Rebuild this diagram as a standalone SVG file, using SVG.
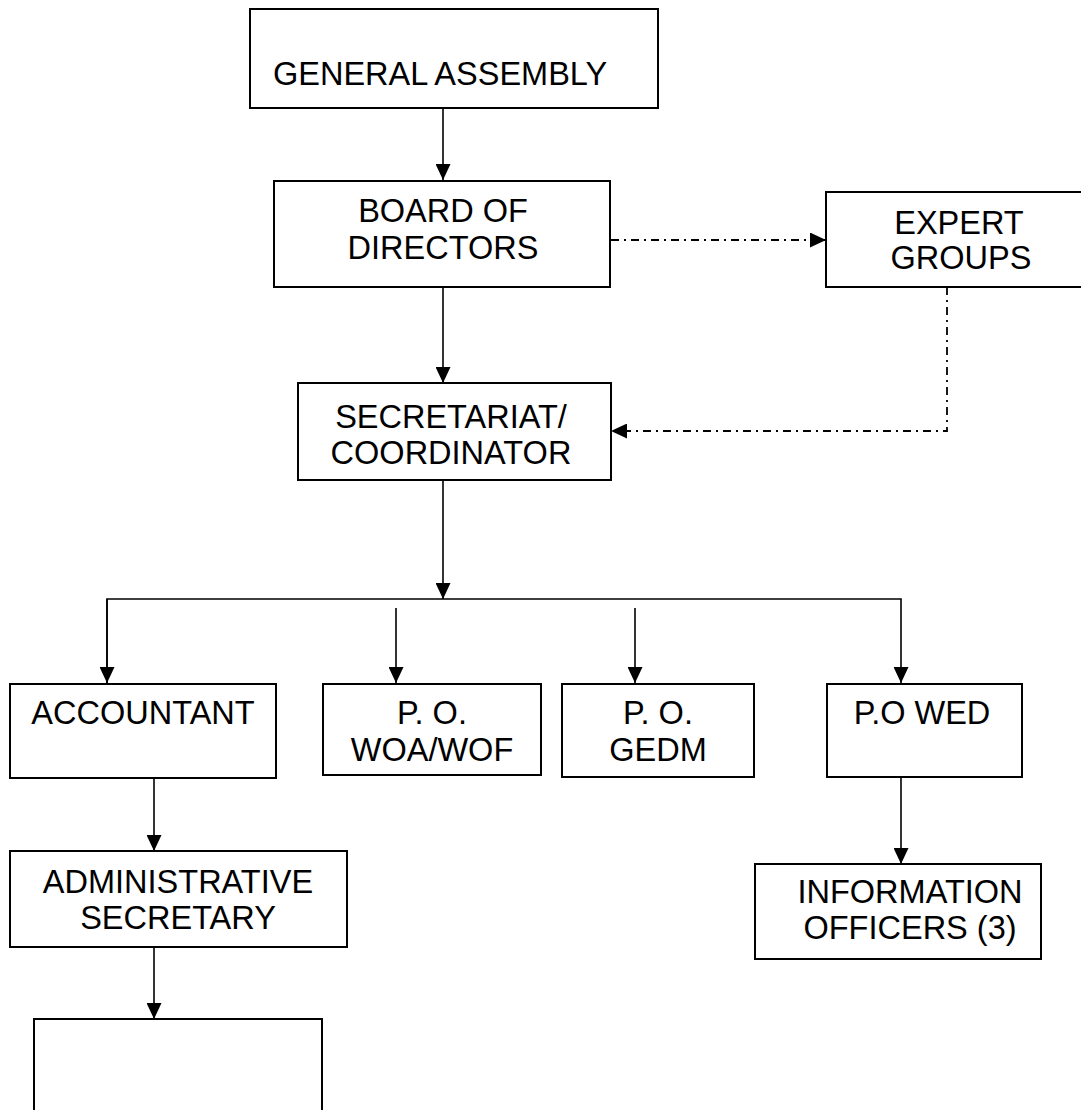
<svg xmlns="http://www.w3.org/2000/svg" width="1081" height="1110" viewBox="0 0 1081 1110">
<style>
.box{fill:#fff;stroke:#000;stroke-width:2}
.t{font-family:"Liberation Sans",Arial,sans-serif;font-size:32.5px;fill:#000;text-anchor:middle}
.c{fill:none;stroke:#000;stroke-width:1.6}
.dd{fill:none;stroke:#000;stroke-width:1.8;stroke-dasharray:8 5 2 5}
</style>
<defs>
<marker id="ah" markerUnits="userSpaceOnUse" markerWidth="16" markerHeight="15" refX="16" refY="7.5" orient="auto">
<path d="M0,0 L16,7.5 L0,15 z" fill="#000"/>
</marker>
</defs>
<rect width="1081" height="1110" fill="#fff"/>
<g id="connectors">
<line class="c" x1="443" y1="108" x2="443" y2="180" marker-end="url(#ah)"/>
<line class="c" x1="443" y1="287" x2="443" y2="383" marker-end="url(#ah)"/>
<line class="c" x1="443" y1="481" x2="443" y2="599" marker-end="url(#ah)"/>
<polyline class="c" points="107,683 107,599 901,599 901,683" marker-end="url(#ah)"/>
<line class="c" x1="107" y1="599" x2="107" y2="683" marker-end="url(#ah)"/>
<line class="c" x1="396" y1="608" x2="396" y2="683" marker-end="url(#ah)"/>
<line class="c" x1="635" y1="608" x2="635" y2="683" marker-end="url(#ah)"/>
<line class="c" x1="154" y1="778" x2="154" y2="851" marker-end="url(#ah)"/>
<line class="c" x1="154" y1="947" x2="154" y2="1019" marker-end="url(#ah)"/>
<line class="c" x1="901" y1="777" x2="901" y2="864" marker-end="url(#ah)"/>
<line class="dd" x1="611" y1="240" x2="826" y2="240" marker-end="url(#ah)"/>
<polyline class="dd" points="947,287 947,431 611,431" marker-end="url(#ah)"/>
</g>
<g id="general-assembly">
<rect class="box" x="250" y="9" width="408" height="99"/>
<text class="t" x="273" y="85" style="text-anchor:start">GENERAL ASSEMBLY</text>
</g>
<g id="board">
<rect class="box" x="274" y="181" width="336" height="106"/>
<text class="t" x="443" y="222">BOARD OF</text>
<text class="t" x="443" y="259">DIRECTORS</text>
</g>
<g id="expert-groups">
<rect class="box" x="826" y="192" width="270" height="95"/>
<text class="t" x="959" y="234">EXPERT</text>
<text class="t" x="961" y="269">GROUPS</text>
</g>
<g id="secretariat">
<rect class="box" x="298" y="383" width="313" height="97"/>
<text class="t" x="451" y="428">SECRETARIAT/</text>
<text class="t" x="451" y="464">COORDINATOR</text>
</g>
<g id="accountant">
<rect class="box" x="10" y="684" width="266" height="94"/>
<text class="t" x="143" y="724">ACCOUNTANT</text>
</g>
<g id="po-woa">
<rect class="box" x="323" y="684" width="218" height="91"/>
<text class="t" x="432" y="724">P. O.</text>
<text class="t" x="432" y="761">WOA/WOF</text>
</g>
<g id="po-gedm">
<rect class="box" x="562" y="684" width="192" height="93"/>
<text class="t" x="658" y="724">P. O.</text>
<text class="t" x="658" y="761">GEDM</text>
</g>
<g id="po-wed">
<rect class="box" x="827" y="684" width="195" height="93"/>
<text class="t" x="922" y="724">P.O WED</text>
</g>
<g id="admin-secretary">
<rect class="box" x="10" y="851" width="337" height="96"/>
<text class="t" x="178" y="893">ADMINISTRATIVE</text>
<text class="t" x="178" y="929">SECRETARY</text>
</g>
<g id="information-officers">
<rect class="box" x="755" y="864" width="286" height="95"/>
<text class="t" x="910" y="903">INFORMATION</text>
<text class="t" x="910" y="939">OFFICERS (3)</text>
</g>
<g id="blank-box">
<rect class="box" x="34" y="1019" width="288" height="110"/>
</g>
</svg>
